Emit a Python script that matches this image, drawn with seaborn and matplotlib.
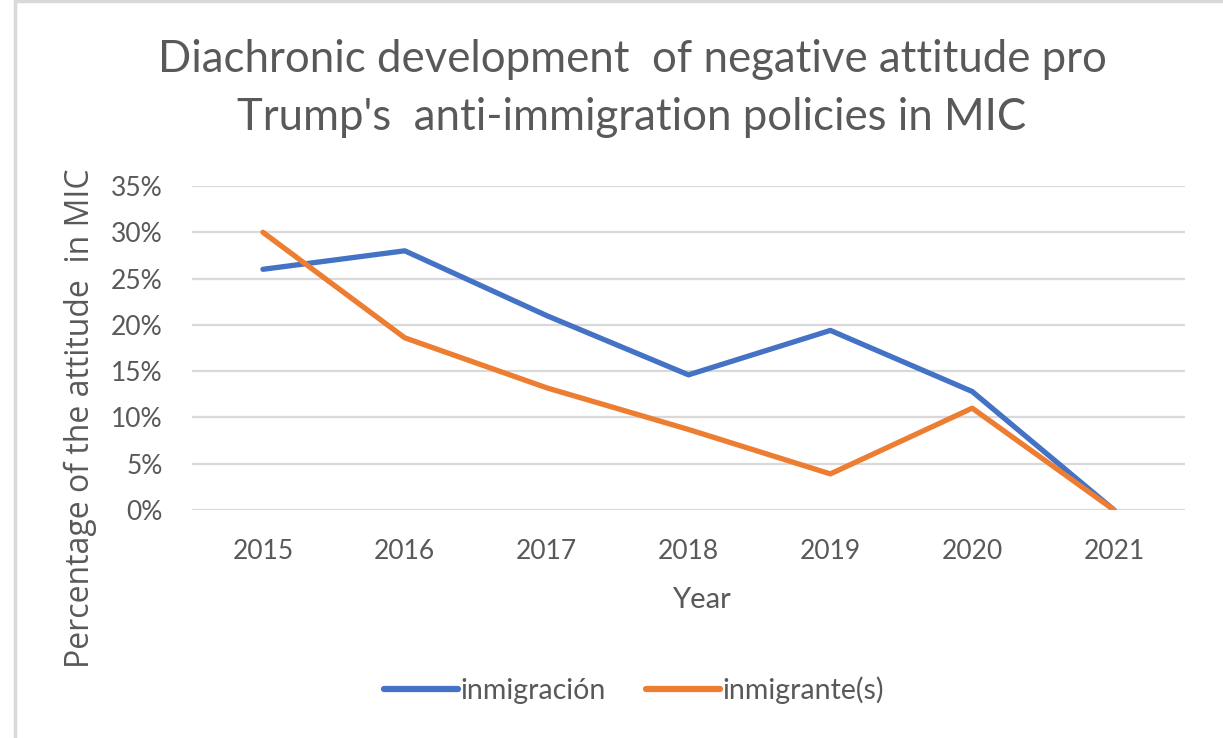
import matplotlib
matplotlib.use("Agg")
import matplotlib.pyplot as plt
import seaborn as sns
import pandas as pd
from matplotlib.ticker import PercentFormatter, MultipleLocator
from matplotlib.lines import Line2D

# Share of negative attitude per year, by search term
years = ["2015", "2016", "2017", "2018", "2019", "2020", "2021"]
inmigracion = [0.260, 0.280, 0.210, 0.146, 0.194, 0.128, 0.0]
inmigrantes = [0.300, 0.186, 0.132, 0.087, 0.039, 0.110, 0.0]
series_names = ["inmigración", "inmigrante(s)"]
colors = ["#4472C4", "#ED7D31"]

df = pd.DataFrame({
    "Year": years * 2,
    "value": inmigracion + inmigrantes,
    "series": [series_names[0]] * len(years) + [series_names[1]] * len(years),
})

sns.set_theme(style="white")
plt.rcParams["font.family"] = ["Lato", "DejaVu Sans"]

text_color = "#595959"
grid_color = "#D9D9D9"

fig = plt.figure(figsize=(12.23, 7.38), dpi=100)
ax = fig.add_axes([192 / 1223, 1 - 510 / 738, (1185 - 192) / 1223, (510 - 186) / 738])

sns.lineplot(data=df, x="Year", y="value", hue="series", palette=colors,
             linewidth=3.8, sort=False, ax=ax, legend=False,
             solid_capstyle="round", solid_joinstyle="round", zorder=3)

ax.set_xlim(-0.5, len(years) - 0.5)
ax.set_ylim(0, 0.35)
ax.yaxis.set_major_locator(MultipleLocator(0.05))
ax.yaxis.set_major_formatter(PercentFormatter(1.0, decimals=0))
ax.grid(axis="y", color=grid_color, linewidth=1.6, zorder=0)
ax.grid(axis="x", visible=False)
for s in ax.spines.values():
    s.set_visible(False)
ax.tick_params(axis="both", length=0, labelsize=19, colors=text_color)
ax.tick_params(axis="x", pad=21)
ax.tick_params(axis="y", pad=21)
ax.set_xlabel("")
ax.set_ylabel("")

fig.text(701 / 1223, 1 - 600 / 738, "Year", ha="center", va="center",
         fontsize=21, color=text_color)
fig.text(80 / 1223, 1 - 418 / 738, "Percentage of the attitude  in MIC",
         rotation=90, ha="center", va="center", fontsize=23,
         color=text_color, family=["Open Sans", "DejaVu Sans"])

fig.text(632 / 1223, 1 - 59 / 738, "Diachronic development  of negative attitude pro",
         ha="center", va="center", fontsize=31.5, color=text_color)
fig.text(632 / 1223, 1 - 117 / 738, "Trump's  anti-immigration policies in MIC",
         ha="center", va="center", fontsize=31.5, color=text_color)

handles = [Line2D([0], [0], color=c, linewidth=4.5, solid_capstyle="round") for c in colors]
fig.legend(handles, series_names, loc="center", bbox_to_anchor=(634 / 1223, 1 - 690 / 738),
           ncol=2, frameon=False, fontsize=20.5, handlelength=2.6, handletextpad=0.1,
           columnspacing=1.4, labelcolor=text_color)

# Chart frame edges on the left and top
fig.add_artist(Line2D([15 / 1223, 15 / 1223], [0, 1 - 1 / 738], color=grid_color,
                      linewidth=2.5, transform=fig.transFigure))
fig.add_artist(Line2D([15 / 1223, 1], [1 - 1 / 738, 1 - 1 / 738], color=grid_color,
                      linewidth=2.5, transform=fig.transFigure))

fig.savefig("out.png", dpi=100, facecolor="white")
